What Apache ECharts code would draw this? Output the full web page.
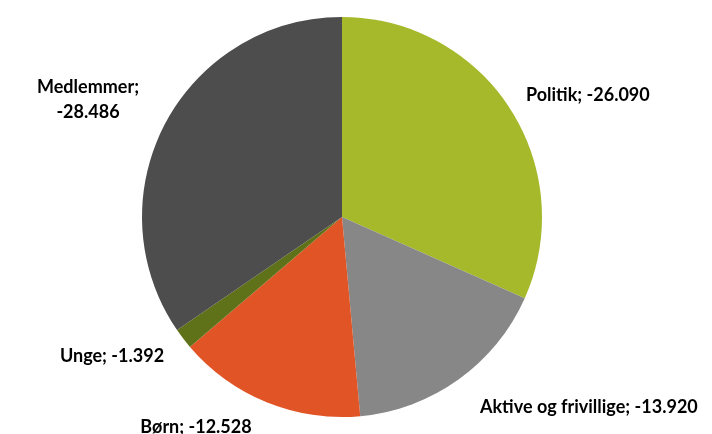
<!doctype html>
<html lang="da">
<head>
    <meta charset="utf-8" />
    <title>Pie</title>
    <script src="https://cdn.jsdelivr.net/npm/echarts@6/dist/echarts.min.js"></script>
    <style>
        html, body { margin: 0; padding: 0; background: #fff; }
        #chart { width: 712px; height: 434px; }
    </style>
</head>
<body>
<div id="chart"></div>
<script>
    // data
    var categories = ['Politik', 'Aktive og frivillige', 'Børn', 'Unge', 'Medlemmer'];
    var values = [-26.090, -13.920, -12.528, -1.392, -28.486];
    var colors = ['#a6b92b', '#878787', '#e05426', '#5f7219', '#4d4d4d'];

    // where each label sits (x, y, align), same order as categories
    var labelSpots = [
        [526, 95, 'left'],
        [480, 407, 'left'],
        [196, 427, 'center'],
        [112, 356, 'center'],
        [88, 100, 'center']
    ];

    function fmt(v) {
        return v.toFixed(3);
    }

    var data = [];
    for (var i = 0; i < categories.length; i++) {
        data.push({
            name: categories[i],
            value: Math.abs(values[i]),
            raw: values[i],
            itemStyle: { color: colors[i] }
        });
    }

    var chart = echarts.init(document.getElementById('chart'));
    chart.setOption({
        animation: false,
        series: [{
            type: 'pie',
            center: [342, 217],
            radius: 200,
            startAngle: 90,
            clockwise: true,
            data: data,
            itemStyle: {
                borderWidth: 0
            },
            label: {
                show: true,
                position: 'outside',
                color: '#000',
                fontFamily: 'Lato',
                fontWeight: 'bold',
                fontSize: 18,
                lineHeight: 25,
                overflow: 'none',
                formatter: function (p) {
                    var name = p.name === 'Medlemmer' ? p.name + ';\n' : p.name + '; ';
                    return name + fmt(p.data.raw);
                }
            },
            labelLine: { show: false },
            labelLayout: function (p) {
                var s = labelSpots[p.dataIndex];
                return { x: s[0], y: s[1], align: s[2], verticalAlign: 'middle' };
            }
        }]
    });
</script>
</body>
</html>
